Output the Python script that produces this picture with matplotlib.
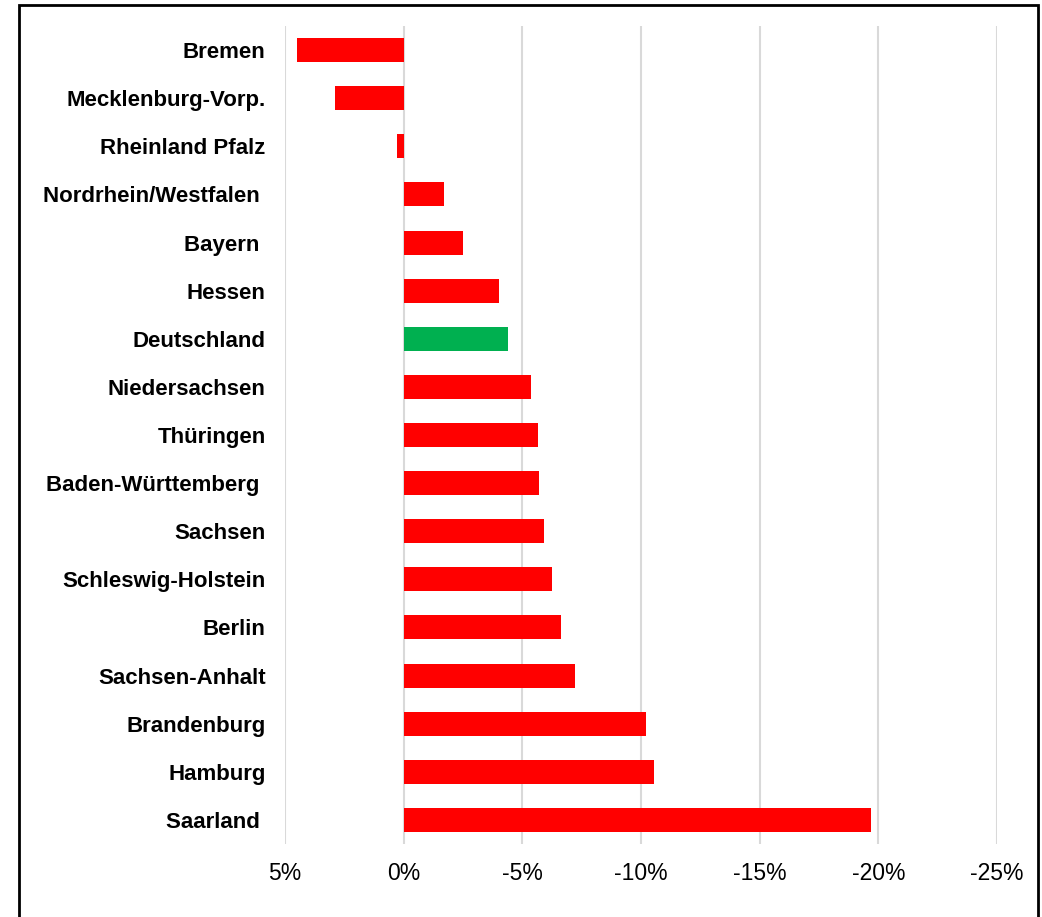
import matplotlib.pyplot as plt
from matplotlib.patches import Rectangle

# Data (change in %, positive = left of zero)
laender = ["Bremen", "Mecklenburg-Vorp.", "Rheinland Pfalz", "Nordrhein/Westfalen ",
           "Bayern ", "Hessen", "Deutschland", "Niedersachsen", "Thüringen",
           "Baden-Württemberg ", "Sachsen", "Schleswig-Holstein", "Berlin",
           "Sachsen-Anhalt", "Brandenburg", "Hamburg", "Saarland "]
veraenderung = [4.5, 2.9, 0.3, -1.7, -2.5, -4.0, -4.4, -5.35, -5.66,
                -5.72, -5.92, -6.26, -6.63, -7.24, -10.19, -10.53, -19.7]
ticks = [5, 0, -5, -10, -15, -20, -25]
tick_labels = ["5%", "0%", "-5%", "-10%", "-15%", "-20%", "-25%"]

plt.rcParams["font.family"] = ["Liberation Sans", "DejaVu Sans"]

fig = plt.figure(figsize=(10.42, 9.17), dpi=100)
ax = fig.add_axes([285 / 1042, 1 - 844 / 917, (997 - 285) / 1042, (844 - 26) / 917])

farben = ["#00B050" if l == "Deutschland" else "#FF0000" for l in laender]
ax.barh(range(len(laender)), veraenderung, height=0.5, color=farben, zorder=3)

ax.set_xlim(5, -25)
ax.set_ylim(len(laender) - 0.5, -0.5)
ax.set_xticks(ticks)
ax.set_xticklabels(tick_labels, fontsize=16.5)
ax.set_yticks(range(len(laender)))
ax.set_yticklabels(laender, fontsize=16, fontweight="bold")
ax.tick_params(length=0)
ax.tick_params(axis="x", pad=13)
ax.tick_params(axis="y", pad=14)
ax.grid(axis="x", color="#D9D9D9", linewidth=1.5, zorder=0)
for s in ax.spines.values():
    s.set_visible(False)

# frame around the chart
fig.patches.append(Rectangle((19 / 1042, -0.02), (1038 - 19) / 1042, 1.02 - 5 / 917,
                             transform=fig.transFigure, fill=False,
                             edgecolor="black", linewidth=2))

fig.savefig("out.png", dpi=100)
